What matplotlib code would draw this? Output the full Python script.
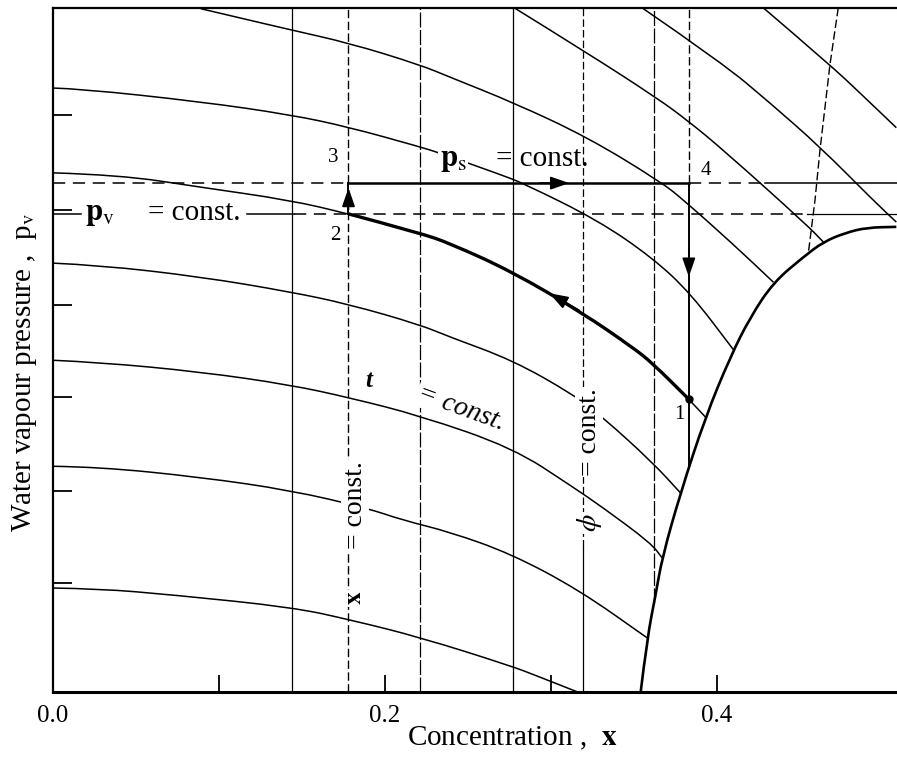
import numpy as np
import matplotlib.pyplot as plt
from matplotlib.path import Path
from matplotlib.patches import PathPatch

plt.rcParams['font.family'] = ['Liberation Serif', 'DejaVu Serif']
plt.rcParams['mathtext.fontset'] = 'stix'

# t = const curves, concentration x vs water vapour pressure (arbitrary units 0..100)
iso1_x = [0.428, 0.468, 0.486, 0.508]
iso1_p = [100, 91.7, 87.6, 82.5]
iso2_x = [0.355, 0.403, 0.432, 0.462, 0.494, 0.508]
iso2_p = [100, 92.0, 86.1, 79.7, 71.9, 68.7]
iso3_x = [0.278, 0.322, 0.364, 0.382, 0.404, 0.454, 0.464]
iso3_p = [100, 93.4, 86.8, 83.6, 79.2, 68.3, 65.8]
iso4_x = [0.089, 0.143, 0.178, 0.221, 0.239, 0.278, 0.322, 0.366, 0.380, 0.410, 0.434]
iso4_p = [99.9, 96.8, 94.9, 91.7, 89.9, 86.1, 81.1, 74.6, 71.9, 65.4, 59.9]
iso5_x = [0, 0.016, 0.089, 0.143, 0.178, 0.221, 0.233, 0.270, 0.283, 0.328, 0.361, 0.384, 0.410]
iso5_p = [88.3, 88.2, 86.3, 84.4, 82.6, 79.7, 78.8, 75.6, 74.4, 69.0, 63.5, 58.3, 50.0]
iso6_x = [0, 0.040, 0.089, 0.143, 0.178, 0.221, 0.239, 0.277, 0.319, 0.349, 0.361, 0.383, 0.393]
iso6_p = [75.9, 75.6, 73.8, 71.9, 69.9, 67.1, 65.6, 61.4, 55.4, 50.4, 48.1, 42.8, 40.2]
iso7_x = [0, 0.028, 0.089, 0.143, 0.178, 0.221, 0.239, 0.277, 0.314, 0.331, 0.361, 0.378]
iso7_p = [62.7, 62.4, 60.7, 58.5, 56.7, 53.7, 51.9, 48.5, 43.4, 40.2, 33.6, 29.1]
iso8_x = [0, 0.028, 0.089, 0.143, 0.179, 0.221, 0.277, 0.313, 0.331, 0.360, 0.367]
iso8_p = [48.5, 48.2, 46.8, 44.9, 43.0, 40.4, 35.7, 30.0, 27.0, 21.8, 19.6]
iso9_x = [0, 0.028, 0.089, 0.143, 0.189, 0.211, 0.239, 0.276, 0.317, 0.358]
iso9_p = [33.0, 32.9, 31.4, 29.5, 26.9, 25.1, 23.4, 20.2, 14.9, 7.9]
iso10_x = [0, 0.028, 0.072, 0.144, 0.180, 0.221, 0.276, 0.292, 0.316]
iso10_p = [15.2, 15.1, 14.2, 12.4, 10.5, 8.0, 3.8, 2.3, 0]

# crystallization line
cryst_x = [0.354, 0.358, 0.363, 0.367, 0.378, 0.393, 0.408, 0.420, 0.434, 0.452, 0.464, 0.477, 0.490, 0.508]
cryst_p = [0, 8.0, 14.2, 19.7, 29.1, 40.2, 49.0, 54.8, 59.9, 63.6, 65.8, 67.1, 67.9, 68.0]

# x = const lines
xc_lines = [0.144, 0.178, 0.221, 0.277, 0.319, 0.362, 0.383]
slant_x = [0.473, 0.468, 0.462, 0.459, 0.455]
slant_p = [100, 91.7, 79.2, 71.9, 64.2]

# process 1-2-3-4
p_s = 74.4
p_v = 69.9
p_1 = 42.8

ytick_pos = [84.4, 70.5, 56.6, 43.1, 29.4, 15.9]

fig = plt.figure(figsize=(8.97, 7.62), dpi=100)
ax = fig.add_axes([53/897, 70/762, 844/897, 684/762])
ax.set_xlim(0, 0.5084)
ax.set_ylim(0, 100)

k = 'black'


def smooth(xs, ps, lw):
    # quadratic bezier through the midpoints, read points used as controls
    pts = list(zip(xs, ps))
    verts = [pts[0]]
    codes = [Path.MOVETO]
    for i in range(1, len(pts) - 1):
        mid = ((pts[i][0] + pts[i + 1][0]) / 2, (pts[i][1] + pts[i + 1][1]) / 2)
        verts += [pts[i], mid]
        codes += [Path.CURVE3, Path.CURVE3]
    verts.append(pts[-1])
    codes.append(Path.LINETO)
    ax.add_patch(PathPatch(Path(verts, codes), fill=False, ec=k, lw=lw, capstyle='butt'))


for xs, ps in [(iso1_x, iso1_p), (iso2_x, iso2_p), (iso3_x, iso3_p), (iso4_x, iso4_p),
               (iso5_x, iso5_p), (iso6_x, iso6_p), (iso7_x, iso7_p), (iso8_x, iso8_p),
               (iso9_x, iso9_p), (iso10_x, iso10_p)]:
    smooth(xs, ps, 1.1)
# thick part 2 -> 1
smooth(iso6_x[4:12], iso6_p[4:12], 2.4)

smooth(cryst_x, cryst_p, 1.9)

dash = (0, (6, 2.5))
longdash = (0, (12, 2))
ax.plot([xc_lines[0]] * 2, [0, 100], color=k, lw=0.9)
ax.plot([xc_lines[1]] * 2, [0, p_v], color=k, lw=1.0, ls=dash)
ax.plot([xc_lines[1]] * 2, [p_v, p_s], color=k, lw=1.4)
ax.plot([xc_lines[1]] * 2, [p_s, 100], color=k, lw=1.0, ls=dash)
ax.plot([xc_lines[2]] * 2, [0, 100], color=k, lw=0.9, ls=longdash)
ax.plot([xc_lines[3]] * 2, [0, 100], color=k, lw=0.9)
ax.plot([xc_lines[4]] * 2, [0, 21.2], color=k, lw=0.9)
ax.plot([xc_lines[4]] * 2, [21.2, 100], color=k, lw=0.9, ls=dash)
ax.plot([xc_lines[5]] * 2, [np.interp(xc_lines[5], cryst_x, cryst_p), 100], color=k, lw=0.9, ls=longdash)
ax.plot([xc_lines[6]] * 2, [p_s, 100], color=k, lw=1.0, ls=dash)
ax.plot([xc_lines[6]] * 2, [np.interp(xc_lines[6], cryst_x, cryst_p), p_s], color=k, lw=1.4)
ax.plot(slant_x, slant_p, color=k, lw=1.0, ls=dash)

# p_s = const
ax.plot([0, xc_lines[1]], [p_s, p_s], color=k, lw=1.1, ls=(0, (8, 5)))
ax.plot([xc_lines[1], xc_lines[6]], [p_s, p_s], color=k, lw=1.8)
ax.plot([xc_lines[6], 0.429], [p_s, p_s], color=k, lw=1.1, ls=(0, (8, 5)))
ax.plot([0.429, 0.5084], [p_s, p_s], color=k, lw=1.1)
# p_v = const
ax.plot([0, 0.017], [p_v, p_v], color=k, lw=1.1)
ax.plot([0.117, 0.145], [p_v, p_v], color=k, lw=1.1)
ax.plot([0.145, 0.454], [p_v, p_v], color=k, lw=1.1, ls=(0, (8, 5)))
ax.plot([0.454, 0.5084], [p_v, p_v], color=k, lw=0.9)


def arrow(tail, tip):
    ax.annotate('', xy=tip, xytext=tail,
                arrowprops=dict(arrowstyle='-|>,head_length=1.15,head_width=0.4',
                                mutation_scale=10, color=k, lw=1.2,
                                shrinkA=0, shrinkB=0))


arrow((0.317, 55.8), (0.299, 58.3))
arrow((xc_lines[1], 70.5), (xc_lines[1], 73.7))
arrow((0.293, p_s), (0.311, p_s))
arrow((xc_lines[6], 64.6), (xc_lines[6], 60.7))
ax.plot(xc_lines[6], p_1, 'o', ms=5, color=k)

ax.text(0.169, 78.1, '3', fontsize=15, ha='center', va='center')
ax.text(0.170, 66.8, '2', fontsize=15, ha='center', va='center')
ax.text(0.393, 76.3, '4', fontsize=15, ha='center', va='center')
ax.text(0.377, 40.5, '1', fontsize=15, ha='center', va='center')

wb = dict(facecolor='white', edgecolor='none', pad=1)
ax.text(0.233, 76.9, r'$\mathbf{p}_{\mathrm{s}}$', fontsize=22, ha='left', va='baseline', bbox=wb, zorder=5)
ax.text(0.267, 76.9, '= const.', fontsize=21, ha='left', va='baseline', zorder=5)
ax.text(0.019, 69.0, r'$\mathbf{p}_{\mathrm{v}}$', fontsize=22, ha='left', va='baseline', zorder=5)
ax.text(0.057, 69.0, '= const.', fontsize=21, ha='left', va='baseline', zorder=5)
ax.text(0.190, 45.6, 't', fontsize=18, style='italic', weight='bold', ha='center', va='center')
ax.text(0.246, 41.5, '= const.', fontsize=20, style='italic', rotation=-20,
        rotation_mode='anchor', ha='center', va='center', bbox=wb, zorder=5)
ax.text(0.182, 13.7, r'$\mathbf{x}$', fontsize=18, rotation=90, ha='center', va='center', bbox=wb, zorder=5)
ax.text(0.182, 27.3, '= const.', fontsize=20, rotation=90, ha='center', va='center', bbox=wb, zorder=5)
ax.text(0.323, 24.7, r'$\phi$', fontsize=20, rotation=90, ha='center', va='center', bbox=wb, zorder=5)
ax.text(0.323, 38.0, '= const.', fontsize=20, rotation=90, ha='center', va='center', bbox=wb, zorder=5)

ax.spines['right'].set_visible(False)
ax.spines['top'].set_linewidth(1.6)
ax.spines['left'].set_linewidth(1.6)
ax.spines['bottom'].set_linewidth(2.2)

ax.set_xticks([0.0, 0.2, 0.4])
ax.set_xticklabels(['0.0', '0.2', '0.4'])
ax.set_xticks([0.1, 0.3], minor=True)
ax.tick_params(axis='x', which='both', direction='in', length=12, width=1.3, pad=9, labelsize=18)
ax.set_yticks(ytick_pos)
ax.set_yticklabels([])
ax.tick_params(axis='y', direction='in', length=14, width=1.3)

fig.text(25/897, 1 - 372/762, r'Water vapour pressure ,  p$_{\mathrm{v}}$', rotation=90,
         ha='center', va='center', fontsize=21)
fig.text(407/897, 1 - 745/762, r'Concentration ,  $\mathbf{x}$', ha='left', va='baseline', fontsize=21)

fig.savefig('out.png', dpi=100)
